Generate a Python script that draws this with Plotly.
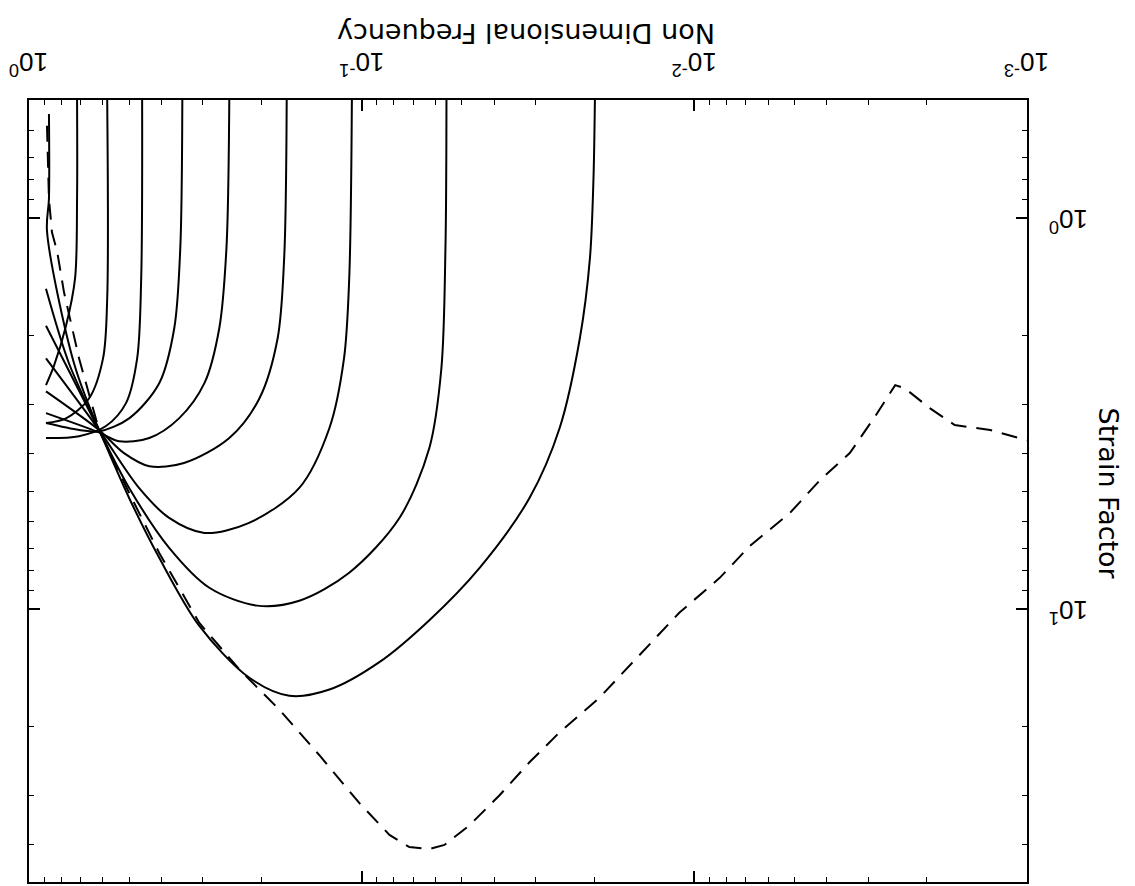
import plotly.graph_objects as go
import numpy as np

# ---- data (frequency, strain factor) ----
c1_f = [0.871, 0.871, 0.883, 0.732, 0.616]
c1_s = [0.543, 0.894, 1.08, 2.36, 3.49]

c2_f = [0.889, 0.841, 0.774, 0.727, 0.717, 0.717]
c2_s = [2.68, 2.39, 1.89, 1.43, 0.894, 0.497]

c3_f = [0.889, 0.774, 0.660, 0.599, 0.582, 0.582]
c3_s = [3.35, 3.26, 2.90, 2.29, 1.61, 0.497]

c4_f = [0.889, 0.707, 0.587, 0.511, 0.473, 0.460, 0.457]
c4_s = [3.66, 3.62, 3.41, 2.98, 2.29, 1.43, 0.497]

c5_f = [0.889, 0.707, 0.616, 0.500, 0.406, 0.366, 0.351, 0.346]
c5_s = [3.35, 3.49, 3.52, 3.26, 2.65, 1.92, 1.20, 0.497]

c6_f = [0.889, 0.616, 0.536, 0.435, 0.354, 0.297, 0.268, 0.255, 0.250]
c6_s = [3.16, 3.54, 3.73, 3.66, 3.26, 2.65, 1.92, 1.20, 0.497]

c7_f = [0.889, 0.616, 0.518, 0.435, 0.342, 0.250, 0.203, 0.179, 0.171, 0.168]
c7_s = [2.78, 3.49, 4.00, 4.32, 4.24, 3.66, 2.90, 2.04, 1.27, 0.497]

c8_f = [0.889, 0.616, 0.467, 0.379, 0.297, 0.218, 0.154, 0.125, 0.113, 0.109, 0.107]
c8_s = [2.29, 3.49, 4.91, 5.86, 6.40, 6.03, 4.91, 3.45, 2.29, 1.43, 0.497]

c9_f = [0.889, 0.616, 0.500, 0.379, 0.287, 0.206, 0.154, 0.109, 0.0770, 0.0626, 0.0576, 0.0560, 0.0556]
c9_s = [1.89, 3.49, 4.91, 6.99, 8.84, 9.82, 9.54, 8.09, 5.86, 3.88, 2.43, 1.20, 0.497]

c10_f = [0.889, 0.758, 0.616, 0.500, 0.406, 0.308, 0.218, 0.165, 0.125, 0.0885, 0.0626,
         0.0442, 0.0313, 0.0254, 0.0221, 0.0206, 0.0201, 0.0199]
c10_s = [1.52, 2.36, 3.49, 5.21, 7.41, 11.05, 15.0, 16.7, 16.1, 13.7, 10.7,
         7.86, 5.21, 3.45, 2.04, 1.27, 0.795, 0.497]

dash_f = [0.883, 0.871, 0.853, 0.823, 0.785, 0.707, 0.616, 0.500, 0.406, 0.308, 0.233, 0.177,
          0.134, 0.102, 0.0825, 0.0719, 0.0626, 0.0564, 0.0474, 0.0385, 0.0313, 0.0254,
          0.0193, 0.0146, 0.0111, 0.00839, 0.00681, 0.00516, 0.00419, 0.00341, 0.00286,
          0.00249, 0.00233, 0.00196, 0.00165, 0.00129, 0.0010]
dash_s = [0.582, 0.894, 1.09, 1.22, 1.55, 2.29, 3.49, 5.06, 7.20, 10.86, 14.31, 18.10,
          23.7, 31.3, 37.9, 40.7, 41.2, 40.2, 35.8, 30.0, 24.7, 20.7,
          16.9, 13.1, 10.24, 8.34, 6.91, 5.69, 4.69, 4.00, 3.22,
          2.68, 2.73, 3.07, 3.39, 3.49, 3.71]

x_ticks = [1, 0.1, 0.01, 0.001]
x_ticktext = ["10<sup>0</sup>", "10<sup>-1</sup>", "10<sup>-2</sup>", "10<sup>-3</sup>"]
y_ticks = [1, 10]
y_ticktext = ["10<sup>0</sup>", "10<sup>1</sup>"]
x_title = "Non Dimensional Frequency"
y_title = "Strain Factor"

x_minor = [m * 10.0 ** e for e in (-3, -2, -1) for m in range(2, 10)]
y_minor = [0.5, 0.6, 0.7, 0.8, 0.9] + [m for m in range(2, 10)] + [20, 30, 40, 50]

fig = go.Figure()
solid = [(c1_f, c1_s), (c2_f, c2_s), (c3_f, c3_s), (c4_f, c4_s), (c5_f, c5_s),
         (c6_f, c6_s), (c7_f, c7_s), (c8_f, c8_s), (c9_f, c9_s), (c10_f, c10_s)]
for f, s in solid:
    fig.add_trace(go.Scatter(x=f, y=s, mode="lines",
                             line=dict(color="black", width=2, shape="spline", smoothing=0.9),
                             showlegend=False, hoverinfo="skip"))
fig.add_trace(go.Scatter(x=dash_f, y=dash_s, mode="lines",
                         line=dict(color="black", width=2, dash="16px,10px"),
                         showlegend=False, hoverinfo="skip"))

axis_common = dict(type="log", showgrid=False, zeroline=False, showline=True,
                   linecolor="black", linewidth=2, mirror="allticks",
                   ticks="inside", ticklen=11, tickwidth=1.5, tickcolor="black",
                   showticklabels=False)

tick_font = dict(family="Liberation Sans, Arial", size=26, color="black")
title_font = dict(family="DejaVu Sans", size=27, color="black")

annotations = []
for v, t in zip(x_ticks, x_ticktext):
    annotations.append(dict(text=t, xref="x", yref="paper", x=np.log10(v), y=1.046,
                            xanchor="center", yanchor="middle", showarrow=False,
                            textangle=180, font=tick_font))
for v, t in zip(y_ticks, y_ticktext):
    annotations.append(dict(text=t, xref="paper", yref="y", x=1.041, y=np.log10(v),
                            xanchor="center", yanchor="middle", showarrow=False,
                            textangle=180, yshift=-3, font=tick_font))
annotations.append(dict(text=x_title, xref="paper", yref="paper", x=0.498, y=1.085,
                        xanchor="center", yanchor="middle", showarrow=False, textangle=180,
                        font=title_font))
annotations.append(dict(text=y_title, xref="paper", yref="paper", x=1.082, y=0.497,
                        xanchor="center", yanchor="middle", showarrow=False, textangle=90,
                        font=title_font))

fig.update_layout(
    width=1135, height=886,
    margin=dict(l=29, r=108, t=100, b=2),
    paper_bgcolor="white", plot_bgcolor="white",
    xaxis=dict(axis_common, range=[0, -3], side="top", tickvals=x_ticks,
               minor=dict(ticks="inside", ticklen=5, tickwidth=1.2, tickcolor="black",
                          tickvals=x_minor)),
    yaxis=dict(axis_common, range=[np.log10(50), np.log10(0.5)], side="right",
               tickvals=y_ticks,
               minor=dict(ticks="inside", ticklen=5, tickwidth=1.2, tickcolor="black",
                          tickvals=y_minor)),
    annotations=annotations,
)

fig.write_html("out.html")
